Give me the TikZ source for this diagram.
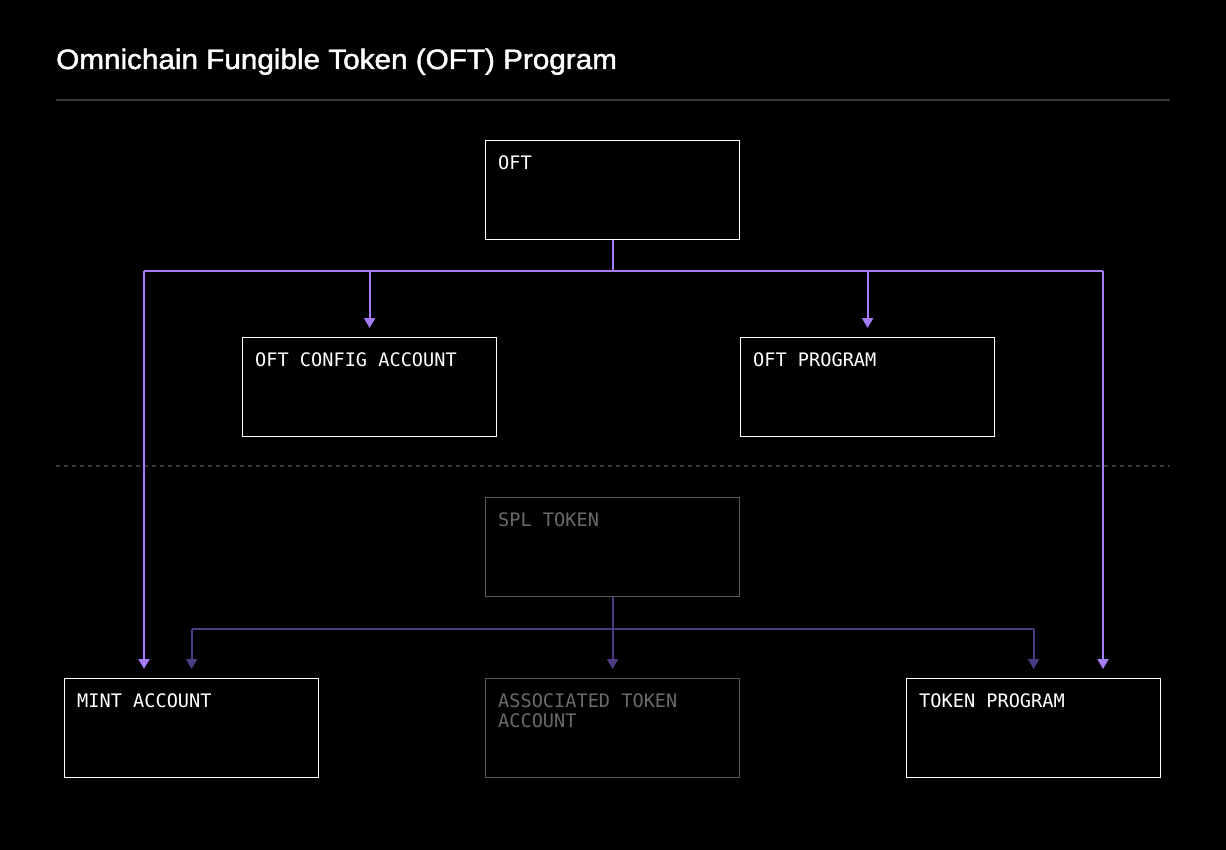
\documentclass[tikz,border=0pt]{standalone}
\usepackage{fontspec}
\setmainfont{Liberation Sans}
\newfontfamily\titlefont[FakeBold=1.6,FakeStretch=1.06]{Liberation Sans}
\newfontfamily\boxfont{DejaVu Sans Mono}
\usetikzlibrary{arrows.meta,calc}
\definecolor{pbright}{HTML}{A57CF7}
\definecolor{pdim}{HTML}{4B3B84}
\definecolor{gbox}{HTML}{5A5A5A}
\definecolor{gtext}{HTML}{6A6A6A}
\definecolor{rulec}{HTML}{363636}
\tikzset{
  box/.style={draw=white, line width=1.2pt, minimum width=254pt, minimum height=99pt, inner sep=0pt},
  dimbox/.style={box, draw=gbox},
  lbl/.style={anchor=north west, inner sep=0pt, text=white, font=\boxfont\fontsize{18.6}{20}\selectfont, align=left},
  dimlbl/.style={lbl, text=gtext},
  pline/.style={draw=pbright, line width=2pt},
  parr/.style={pline, -{Triangle[length=10pt,width=11pt]}, shorten >=9pt},
  dline/.style={draw=pdim, line width=2pt},
  darr/.style={dline, -{Triangle[length=10pt,width=11pt]}, shorten >=9pt},
}
\begin{document}
\begin{tikzpicture}[x=1pt,y=-1pt]
\fill[black] (0,0) rectangle (1226,850);
\useasboundingbox (0,0) rectangle (1226,850);
\node[anchor=base west, inner sep=0pt, text=white, font=\titlefont\fontsize{28}{32}\selectfont] (title) at (56,69) {Omnichain Fungible Token (OFT) Program};
\draw[rulec, line width=1.5pt] (56,100) -- (1170,100);
\draw[rulec, line width=1.2pt, dash pattern=on 4pt off 4pt] (56,466) -- (1170,466);
% boxes
\node[box, anchor=north west] (oft) at (485,140) {};
\node[box, anchor=north west] (cfg) at (242,337) {};
\node[box, anchor=north west] (prog) at (740,337) {};
\node[dimbox, anchor=north west] (spl) at (485,497) {};
\node[box, anchor=north west] (mint) at (64,678) {};
\node[dimbox, anchor=north west] (ata) at (485,678) {};
\node[box, anchor=north west] (tok) at (906,678) {};
% labels
\node[lbl] (toft) at ($(oft.north west)+(13,15)$) {OFT};
\node[lbl] (tcfg) at ($(cfg.north west)+(13,15)$) {OFT CONFIG ACCOUNT};
\node[lbl] (tprog) at ($(prog.north west)+(13,15)$) {OFT PROGRAM};
\node[dimlbl] (tspl) at ($(spl.north west)+(13,15)$) {SPL TOKEN};
\node[lbl] (tmint) at ($(mint.north west)+(13,15)$) {MINT ACCOUNT};
\node[dimlbl] (tata) at ($(ata.north west)+(13,15)$) {ASSOCIATED TOKEN\\ACCOUNT};
\node[lbl] (ttok) at ($(tok.north west)+(13,15)$) {TOKEN PROGRAM};
% OFT bus
\coordinate (ob) at (oft.south |- 0,271);
\coordinate (obL) at (144,271);
\coordinate (obR) at (1103,271);
\draw[pline] (oft.south) -- (ob);
\draw[pline] (obL) -- (obR);
\draw[parr] (ob -| cfg.north) -- (cfg.north);
\draw[parr] (ob -| prog.north) -- (prog.north);
\draw[parr] (obL) -- (obL |- mint.north);
\draw[parr] (obR) -- (obR |- tok.north);
% SPL bus
\coordinate (sb) at (spl.south |- 0,629);
\coordinate (sbL) at (mint.north |- 0,629);
\coordinate (sbR) at (tok.north |- 0,629);
\draw[dline] (spl.south) -- (sb);
\draw[dline] (sbL) -- (sbR);
\draw[darr] (sbL) -- (mint.north);
\draw[darr] (sb) -- (ata.north);
\draw[darr] (sbR) -- (tok.north);
\end{tikzpicture}
\end{document}
